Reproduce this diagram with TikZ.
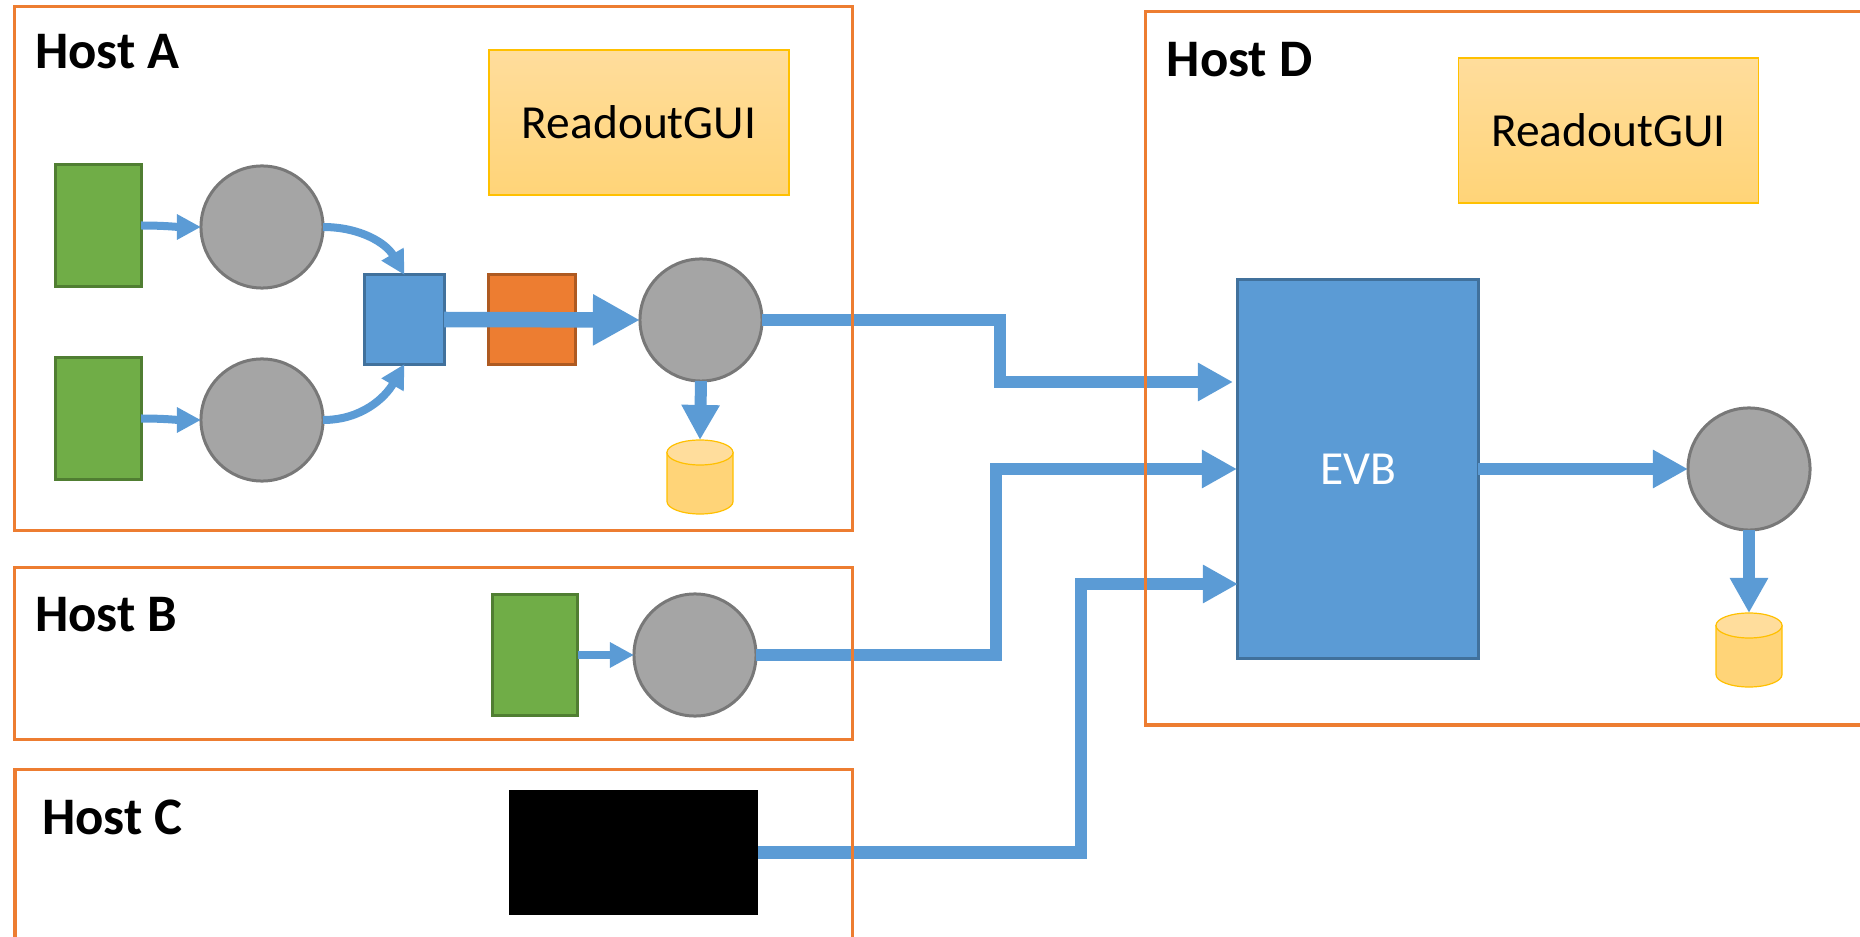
\documentclass[tikz,border=0pt]{standalone}
\usepackage{fontspec}
\setmainfont{Carlito}
\usetikzlibrary{arrows.meta}

\definecolor{hostorange}{HTML}{ED7D31}
\definecolor{linkblue}{HTML}{5B9BD5}
\definecolor{guitop}{HTML}{FFDD9C}
\definecolor{guibottom}{HTML}{FFD478}
\definecolor{guiedge}{HTML}{FFC000}
\definecolor{sourcegreen}{HTML}{70AD47}
\definecolor{sourceedge}{HTML}{507E32}
\definecolor{ringgrey}{HTML}{A5A5A5}
\definecolor{ringedge}{HTML}{787878}
\definecolor{mergeedge}{HTML}{41719C}
\definecolor{stageedge}{HTML}{AE5A21}
\tikzset{
	hostbox/.style={draw=hostorange, line width=0.03cm, inner sep=0, outer sep=0},
	hostline/.style={draw=hostorange, line width=0.03cm},
	hostlabel/.style={anchor=base west, inner sep=0, font=\fontsize{15}{17}\selectfont\bfseries},
	guibox/.style={draw=guiedge, line width=0.012cm, top color=guitop, bottom color=guibottom, minimum width=3cm, minimum height=1.45cm, inner sep=0, outer sep=0, font=\fontsize{13.5}{16}\selectfont},
	source/.style={draw=sourceedge, fill=sourcegreen, line width=0.03cm, minimum width=0.85cm, minimum height=1.21cm, inner sep=0, outer sep=0},
	ring/.style={circle, draw=ringedge, fill=ringgrey, line width=0.03cm, minimum size=1.22cm, inner sep=0, outer sep=0},
	drumbody/.style={draw=guiedge, fill=guibottom, line width=0.012cm},
	drumend/.style={draw=guiedge, fill=guitop, line width=0.012cm},
	thinlink/.style={draw=linkblue, line width=0.08cm, -{Triangle[length=0.24cm,width=0.24cm]}},
	fatlink/.style={draw=linkblue, line width=0.12cm, -{Triangle[length=0.35cm,width=0.36cm]}},
	biglink/.style={draw=linkblue, line width=0.155cm, -{Triangle[length=0.47cm,width=0.48cm]}}
}
\newcommand{\drum}[3]{
	\node[minimum width=0.66cm, minimum height=0.74cm, inner sep=0, outer sep=0] (#1) at (#2,#3) {};
	\draw[drumbody] (#2-33,#3-24.5) -- (#2-33,#3+24.5) arc[start angle=180, end angle=360, x radius=0.33cm, y radius=0.125cm] -- (#2+33,#3-24.5) -- cycle;
	\draw[drumend] (#2,#3-24.5) ellipse[x radius=0.33cm, y radius=0.125cm];
}

\begin{document}
\begin{tikzpicture}[x=0.01cm, y=-0.01cm]
	\useasboundingbox (0,0) rectangle (1860,937);
	% Host A
	\node[guibox] (guiA) at (639,122.5) {ReadoutGUI};
	\node[source] (srcA) at (98.5,225.5) {};
	\node[source] (srcB) at (98.5,418.5) {};
	\node[ring] (ringA) at (262,227) {};
	\node[ring] (ringB) at (262,420) {};
	\node[draw=mergeedge, fill=linkblue, line width=0.03cm, minimum width=0.79cm, minimum height=0.89cm, inner sep=0, outer sep=0] (merge) at (404.5,319.5) {};
	\node[draw=stageedge, fill=hostorange, line width=0.03cm, minimum width=0.86cm, minimum height=0.89cm, inner sep=0, outer sep=0] (stage) at (532,319.5) {};
	\node[ring] (ringOut) at (701,320) {};
	\drum{storeA}{700}{477}
	% Host B
	\node[source] (srcC) at (535,655) {};
	\node[ring] (ringC) at (695,655) {};
	% Host C
	\node[fill=black, minimum width=2.49cm, minimum height=1.25cm, inner sep=0, outer sep=0] (blackbox) at (633.5,852.5) {};
	% Host D
	\node[guibox] (guiD) at (1608.5,130.5) {ReadoutGUI};
	\node[draw=mergeedge, fill=linkblue, line width=0.03cm, minimum width=2.4cm, minimum height=3.79cm, inner sep=0, outer sep=0, text=white, font=\fontsize{13.5}{16}\selectfont] (evb) at (1358,469) {EVB};
	\node[ring] (ringEvb) at (1749,469) {};
	\drum{storeD}{1749}{650}

	\coordinate (bendA) at (1000,382);
	\coordinate (bendB) at (996,469);
	\coordinate (bendC) at (1081,584);
	\coordinate (evbInA) at (1233,382);
	\coordinate (evbInB) at (1237,469);
	\coordinate (evbInC) at (1238,584);

	\draw[thinlink] (srcA.east) to[out=0, in=180] (ringA.west);
	\draw[thinlink] (srcB.east) to[out=0, in=180] (ringB.west);
	\draw[thinlink] (srcC.east) -- (ringC.west);
	\draw[thinlink] (ringA.east) to[out=0, in=120] (merge.north);
	\draw[thinlink] (ringB.east) to[out=0, in=-120] (merge.south);
	\draw[biglink] (merge.east) -- (ringOut.west);
	\draw[fatlink] (ringOut.south) -- (storeA.north);
	\draw[fatlink] (ringOut.east) -| (bendA) -- (evbInA);
	\draw[fatlink] (ringC.east) -| (bendB) -- (evbInB);
	\draw[fatlink] (blackbox.east) -| (bendC) -- (evbInC);
	\draw[fatlink] (evb.east) -- (ringEvb.west);
	\draw[fatlink] (ringEvb.south) -- (storeD.north);

	% orange frames lie over the links
	\node[hostbox, minimum width=8.37cm, minimum height=5.23cm] (hostA) at (433.5,268.5) {};
	\node[hostbox, minimum width=8.37cm, minimum height=1.71cm] (hostB) at (433.5,653.5) {};
	\coordinate (hostCa) at (15,937);
	\coordinate (hostCb) at (15,769.5);
	\coordinate (hostCc) at (852,769.5);
	\coordinate (hostCd) at (852,937);
	\draw[hostline] (hostCa) -- (hostCb) -- (hostCc) -- (hostCd);
	\coordinate (hostDa) at (1860,11.5);
	\coordinate (hostDb) at (1145.5,11.5);
	\coordinate (hostDc) at (1145.5,725);
	\coordinate (hostDd) at (1860,725);
	\draw[hostline] (hostDa) -- (hostDb) -- (hostDc) -- (hostDd);

	\node[hostlabel] (nameA) at (34.5,69) {Host A};
	\node[hostlabel] (nameB) at (34.5,632) {Host B};
	\node[hostlabel] (nameC) at (41.5,834) {Host C};
	\node[hostlabel] (nameD) at (1166,76.5) {Host D};
\end{tikzpicture}
\end{document}
